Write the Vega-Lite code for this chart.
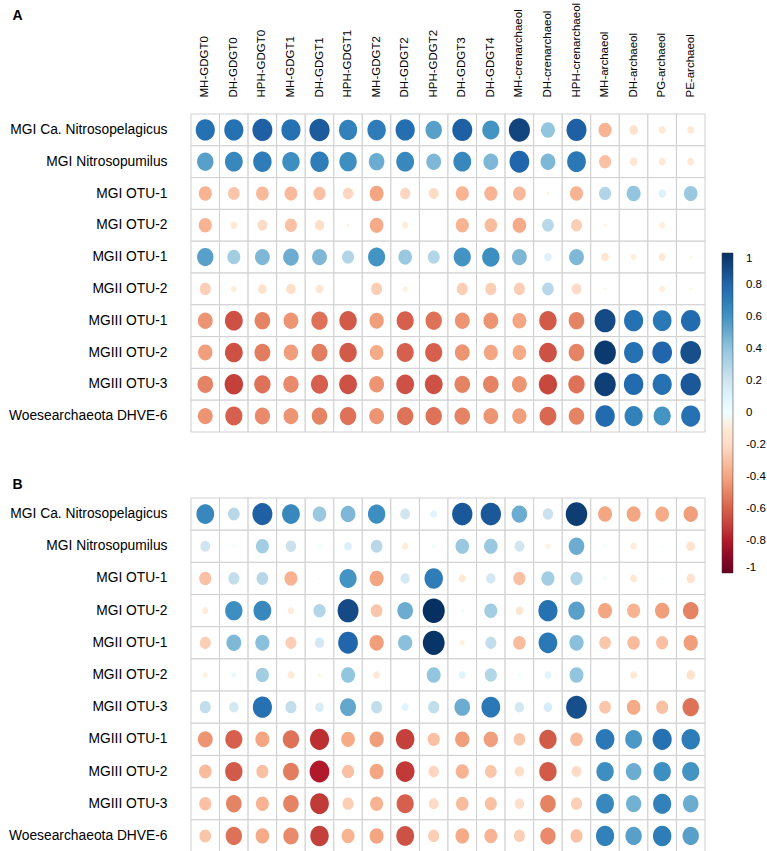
{
"$schema":"https://vega.github.io/schema/vega-lite/v6.json",
"padding":{"left":8,"top":2,"right":0,"bottom":0},
"background":"white",
"config":{"view":{"stroke":null},"axis":{"labelFont":"Liberation Sans","labelColor":"black","ticks":false,"domain":false,"grid":false,"title":null},"title":{"font":"Liberation Sans","fontSize":14,"fontWeight":"bold","color":"black","anchor":"start","frame":"bounds"}},
"spacing":44,
"resolve":{"scale":{"color":"shared","size":"shared"},"legend":{"color":"shared"}},
"datasets":{
"dA":[
{"t":"MGI Ca. Nitrosopelagicus","l":"MH-GDGT0","r":0.75},{"t":"MGI Ca. Nitrosopelagicus","l":"DH-GDGT0","r":0.75},{"t":"MGI Ca. Nitrosopelagicus","l":"HPH-GDGT0","r":0.82},{"t":"MGI Ca. Nitrosopelagicus","l":"MH-GDGT1","r":0.75},{"t":"MGI Ca. Nitrosopelagicus","l":"DH-GDGT1","r":0.84},{"t":"MGI Ca. Nitrosopelagicus","l":"HPH-GDGT1","r":0.68},{"t":"MGI Ca. Nitrosopelagicus","l":"MH-GDGT2","r":0.7},{"t":"MGI Ca. Nitrosopelagicus","l":"DH-GDGT2","r":0.76},{"t":"MGI Ca. Nitrosopelagicus","l":"HPH-GDGT2","r":0.55},{"t":"MGI Ca. Nitrosopelagicus","l":"DH-GDGT3","r":0.82},{"t":"MGI Ca. Nitrosopelagicus","l":"DH-GDGT4","r":0.6},{"t":"MGI Ca. Nitrosopelagicus","l":"MH-crenarchaeol","r":0.92},{"t":"MGI Ca. Nitrosopelagicus","l":"DH-crenarchaeol","r":0.4},{"t":"MGI Ca. Nitrosopelagicus","l":"HPH-crenarchaeol","r":0.82},{"t":"MGI Ca. Nitrosopelagicus","l":"MH-archaeol","r":-0.35},{"t":"MGI Ca. Nitrosopelagicus","l":"DH-archaeol","r":-0.15},{"t":"MGI Ca. Nitrosopelagicus","l":"PG-archaeol","r":-0.1},{"t":"MGI Ca. Nitrosopelagicus","l":"PE-archaeol","r":-0.1},
{"t":"MGI Nitrosopumilus","l":"MH-GDGT0","r":0.55},{"t":"MGI Nitrosopumilus","l":"DH-GDGT0","r":0.65},{"t":"MGI Nitrosopumilus","l":"HPH-GDGT0","r":0.7},{"t":"MGI Nitrosopumilus","l":"MH-GDGT1","r":0.62},{"t":"MGI Nitrosopumilus","l":"DH-GDGT1","r":0.7},{"t":"MGI Nitrosopumilus","l":"HPH-GDGT1","r":0.62},{"t":"MGI Nitrosopumilus","l":"MH-GDGT2","r":0.5},{"t":"MGI Nitrosopumilus","l":"DH-GDGT2","r":0.65},{"t":"MGI Nitrosopumilus","l":"HPH-GDGT2","r":0.45},{"t":"MGI Nitrosopumilus","l":"DH-GDGT3","r":0.65},{"t":"MGI Nitrosopumilus","l":"DH-GDGT4","r":0.45},{"t":"MGI Nitrosopumilus","l":"MH-crenarchaeol","r":0.8},{"t":"MGI Nitrosopumilus","l":"DH-crenarchaeol","r":0.45},{"t":"MGI Nitrosopumilus","l":"HPH-crenarchaeol","r":0.72},{"t":"MGI Nitrosopumilus","l":"MH-archaeol","r":-0.3},{"t":"MGI Nitrosopumilus","l":"DH-archaeol","r":-0.12},{"t":"MGI Nitrosopumilus","l":"PG-archaeol","r":-0.1},{"t":"MGI Nitrosopumilus","l":"PE-archaeol","r":-0.1},
{"t":"MGI OTU-1","l":"MH-GDGT0","r":-0.35},{"t":"MGI OTU-1","l":"DH-GDGT0","r":-0.28},{"t":"MGI OTU-1","l":"HPH-GDGT0","r":-0.33},{"t":"MGI OTU-1","l":"MH-GDGT1","r":-0.33},{"t":"MGI OTU-1","l":"DH-GDGT1","r":-0.3},{"t":"MGI OTU-1","l":"HPH-GDGT1","r":-0.22},{"t":"MGI OTU-1","l":"MH-GDGT2","r":-0.4},{"t":"MGI OTU-1","l":"DH-GDGT2","r":-0.22},{"t":"MGI OTU-1","l":"HPH-GDGT2","r":-0.2},{"t":"MGI OTU-1","l":"DH-GDGT3","r":-0.35},{"t":"MGI OTU-1","l":"DH-GDGT4","r":-0.35},{"t":"MGI OTU-1","l":"MH-crenarchaeol","r":-0.33},{"t":"MGI OTU-1","l":"DH-crenarchaeol","r":-0.02},{"t":"MGI OTU-1","l":"HPH-crenarchaeol","r":-0.35},{"t":"MGI OTU-1","l":"MH-archaeol","r":0.3},{"t":"MGI OTU-1","l":"DH-archaeol","r":0.4},{"t":"MGI OTU-1","l":"PG-archaeol","r":0.12},{"t":"MGI OTU-1","l":"PE-archaeol","r":0.38},
{"t":"MGI OTU-2","l":"MH-GDGT0","r":-0.35},{"t":"MGI OTU-2","l":"DH-GDGT0","r":-0.1},{"t":"MGI OTU-2","l":"HPH-GDGT0","r":-0.2},{"t":"MGI OTU-2","l":"MH-GDGT1","r":-0.3},{"t":"MGI OTU-2","l":"DH-GDGT1","r":-0.18},{"t":"MGI OTU-2","l":"HPH-GDGT1","r":-0.02},{"t":"MGI OTU-2","l":"MH-GDGT2","r":-0.38},{"t":"MGI OTU-2","l":"DH-GDGT2","r":-0.08},{"t":"MGI OTU-2","l":"HPH-GDGT2","r":0},{"t":"MGI OTU-2","l":"DH-GDGT3","r":-0.35},{"t":"MGI OTU-2","l":"DH-GDGT4","r":-0.32},{"t":"MGI OTU-2","l":"MH-crenarchaeol","r":-0.38},{"t":"MGI OTU-2","l":"DH-crenarchaeol","r":0.28},{"t":"MGI OTU-2","l":"HPH-crenarchaeol","r":-0.25},{"t":"MGI OTU-2","l":"MH-archaeol","r":-0.02},{"t":"MGI OTU-2","l":"DH-archaeol","r":0},{"t":"MGI OTU-2","l":"PG-archaeol","r":-0.07},{"t":"MGI OTU-2","l":"PE-archaeol","r":0},
{"t":"MGII OTU-1","l":"MH-GDGT0","r":0.55},{"t":"MGII OTU-1","l":"DH-GDGT0","r":0.35},{"t":"MGII OTU-1","l":"HPH-GDGT0","r":0.45},{"t":"MGII OTU-1","l":"MH-GDGT1","r":0.5},{"t":"MGII OTU-1","l":"DH-GDGT1","r":0.45},{"t":"MGII OTU-1","l":"HPH-GDGT1","r":0.3},{"t":"MGII OTU-1","l":"MH-GDGT2","r":0.6},{"t":"MGII OTU-1","l":"DH-GDGT2","r":0.38},{"t":"MGII OTU-1","l":"HPH-GDGT2","r":0.3},{"t":"MGII OTU-1","l":"DH-GDGT3","r":0.6},{"t":"MGII OTU-1","l":"DH-GDGT4","r":0.62},{"t":"MGII OTU-1","l":"MH-crenarchaeol","r":0.45},{"t":"MGII OTU-1","l":"DH-crenarchaeol","r":0.12},{"t":"MGII OTU-1","l":"HPH-crenarchaeol","r":0.45},{"t":"MGII OTU-1","l":"MH-archaeol","r":-0.12},{"t":"MGII OTU-1","l":"DH-archaeol","r":-0.07},{"t":"MGII OTU-1","l":"PG-archaeol","r":-0.1},{"t":"MGII OTU-1","l":"PE-archaeol","r":-0.02},
{"t":"MGII OTU-2","l":"MH-GDGT0","r":-0.25},{"t":"MGII OTU-2","l":"DH-GDGT0","r":-0.07},{"t":"MGII OTU-2","l":"HPH-GDGT0","r":-0.15},{"t":"MGII OTU-2","l":"MH-GDGT1","r":-0.18},{"t":"MGII OTU-2","l":"DH-GDGT1","r":-0.12},{"t":"MGII OTU-2","l":"HPH-GDGT1","r":0},{"t":"MGII OTU-2","l":"MH-GDGT2","r":-0.25},{"t":"MGII OTU-2","l":"DH-GDGT2","r":-0.05},{"t":"MGII OTU-2","l":"HPH-GDGT2","r":0},{"t":"MGII OTU-2","l":"DH-GDGT3","r":-0.25},{"t":"MGII OTU-2","l":"DH-GDGT4","r":-0.25},{"t":"MGII OTU-2","l":"MH-crenarchaeol","r":-0.25},{"t":"MGII OTU-2","l":"DH-crenarchaeol","r":0.28},{"t":"MGII OTU-2","l":"HPH-crenarchaeol","r":-0.2},{"t":"MGII OTU-2","l":"MH-archaeol","r":-0.01},{"t":"MGII OTU-2","l":"DH-archaeol","r":0},{"t":"MGII OTU-2","l":"PG-archaeol","r":-0.07},{"t":"MGII OTU-2","l":"PE-archaeol","r":-0.01},
{"t":"MGIII OTU-1","l":"MH-GDGT0","r":-0.45},{"t":"MGIII OTU-1","l":"DH-GDGT0","r":-0.65},{"t":"MGIII OTU-1","l":"HPH-GDGT0","r":-0.5},{"t":"MGIII OTU-1","l":"MH-GDGT1","r":-0.45},{"t":"MGIII OTU-1","l":"DH-GDGT1","r":-0.55},{"t":"MGIII OTU-1","l":"HPH-GDGT1","r":-0.62},{"t":"MGIII OTU-1","l":"MH-GDGT2","r":-0.42},{"t":"MGIII OTU-1","l":"DH-GDGT2","r":-0.6},{"t":"MGIII OTU-1","l":"HPH-GDGT2","r":-0.55},{"t":"MGIII OTU-1","l":"DH-GDGT3","r":-0.45},{"t":"MGIII OTU-1","l":"DH-GDGT4","r":-0.45},{"t":"MGIII OTU-1","l":"MH-crenarchaeol","r":-0.4},{"t":"MGIII OTU-1","l":"DH-crenarchaeol","r":-0.62},{"t":"MGIII OTU-1","l":"HPH-crenarchaeol","r":-0.5},{"t":"MGIII OTU-1","l":"MH-archaeol","r":0.9},{"t":"MGIII OTU-1","l":"DH-archaeol","r":0.75},{"t":"MGIII OTU-1","l":"PG-archaeol","r":0.72},{"t":"MGIII OTU-1","l":"PE-archaeol","r":0.78},
{"t":"MGIII OTU-2","l":"MH-GDGT0","r":-0.42},{"t":"MGIII OTU-2","l":"DH-GDGT0","r":-0.65},{"t":"MGIII OTU-2","l":"HPH-GDGT0","r":-0.52},{"t":"MGIII OTU-2","l":"MH-GDGT1","r":-0.42},{"t":"MGIII OTU-2","l":"DH-GDGT1","r":-0.52},{"t":"MGIII OTU-2","l":"HPH-GDGT1","r":-0.62},{"t":"MGIII OTU-2","l":"MH-GDGT2","r":-0.38},{"t":"MGIII OTU-2","l":"DH-GDGT2","r":-0.6},{"t":"MGIII OTU-2","l":"HPH-GDGT2","r":-0.6},{"t":"MGIII OTU-2","l":"DH-GDGT3","r":-0.45},{"t":"MGIII OTU-2","l":"DH-GDGT4","r":-0.4},{"t":"MGIII OTU-2","l":"MH-crenarchaeol","r":-0.38},{"t":"MGIII OTU-2","l":"DH-crenarchaeol","r":-0.65},{"t":"MGIII OTU-2","l":"HPH-crenarchaeol","r":-0.5},{"t":"MGIII OTU-2","l":"MH-archaeol","r":0.96},{"t":"MGIII OTU-2","l":"DH-archaeol","r":0.75},{"t":"MGIII OTU-2","l":"PG-archaeol","r":0.8},{"t":"MGIII OTU-2","l":"PE-archaeol","r":0.88},
{"t":"MGIII OTU-3","l":"MH-GDGT0","r":-0.5},{"t":"MGIII OTU-3","l":"DH-GDGT0","r":-0.7},{"t":"MGIII OTU-3","l":"HPH-GDGT0","r":-0.55},{"t":"MGIII OTU-3","l":"MH-GDGT1","r":-0.48},{"t":"MGIII OTU-3","l":"DH-GDGT1","r":-0.6},{"t":"MGIII OTU-3","l":"HPH-GDGT1","r":-0.65},{"t":"MGIII OTU-3","l":"MH-GDGT2","r":-0.45},{"t":"MGIII OTU-3","l":"DH-GDGT2","r":-0.65},{"t":"MGIII OTU-3","l":"HPH-GDGT2","r":-0.65},{"t":"MGIII OTU-3","l":"DH-GDGT3","r":-0.5},{"t":"MGIII OTU-3","l":"DH-GDGT4","r":-0.5},{"t":"MGIII OTU-3","l":"MH-crenarchaeol","r":-0.45},{"t":"MGIII OTU-3","l":"DH-crenarchaeol","r":-0.68},{"t":"MGIII OTU-3","l":"HPH-crenarchaeol","r":-0.55},{"t":"MGIII OTU-3","l":"MH-archaeol","r":0.94},{"t":"MGIII OTU-3","l":"DH-archaeol","r":0.78},{"t":"MGIII OTU-3","l":"PG-archaeol","r":0.75},{"t":"MGIII OTU-3","l":"PE-archaeol","r":0.85},
{"t":"Woesearchaeota DHVE-6","l":"MH-GDGT0","r":-0.45},{"t":"Woesearchaeota DHVE-6","l":"DH-GDGT0","r":-0.6},{"t":"Woesearchaeota DHVE-6","l":"HPH-GDGT0","r":-0.48},{"t":"Woesearchaeota DHVE-6","l":"MH-GDGT1","r":-0.45},{"t":"Woesearchaeota DHVE-6","l":"DH-GDGT1","r":-0.5},{"t":"Woesearchaeota DHVE-6","l":"HPH-GDGT1","r":-0.55},{"t":"Woesearchaeota DHVE-6","l":"MH-GDGT2","r":-0.45},{"t":"Woesearchaeota DHVE-6","l":"DH-GDGT2","r":-0.55},{"t":"Woesearchaeota DHVE-6","l":"HPH-GDGT2","r":-0.55},{"t":"Woesearchaeota DHVE-6","l":"DH-GDGT3","r":-0.5},{"t":"Woesearchaeota DHVE-6","l":"DH-GDGT4","r":-0.45},{"t":"Woesearchaeota DHVE-6","l":"MH-crenarchaeol","r":-0.42},{"t":"Woesearchaeota DHVE-6","l":"DH-crenarchaeol","r":-0.58},{"t":"Woesearchaeota DHVE-6","l":"HPH-crenarchaeol","r":-0.5},{"t":"Woesearchaeota DHVE-6","l":"MH-archaeol","r":0.78},{"t":"Woesearchaeota DHVE-6","l":"DH-archaeol","r":0.68},{"t":"Woesearchaeota DHVE-6","l":"PG-archaeol","r":0.6},{"t":"Woesearchaeota DHVE-6","l":"PE-archaeol","r":0.75}
],
"dB":[
{"t":"MGI Ca. Nitrosopelagicus","l":"MH-GDGT0","r":0.65},{"t":"MGI Ca. Nitrosopelagicus","l":"DH-GDGT0","r":0.28},{"t":"MGI Ca. Nitrosopelagicus","l":"HPH-GDGT0","r":0.82},{"t":"MGI Ca. Nitrosopelagicus","l":"MH-GDGT1","r":0.65},{"t":"MGI Ca. Nitrosopelagicus","l":"DH-GDGT1","r":0.38},{"t":"MGI Ca. Nitrosopelagicus","l":"HPH-GDGT1","r":0.45},{"t":"MGI Ca. Nitrosopelagicus","l":"MH-GDGT2","r":0.62},{"t":"MGI Ca. Nitrosopelagicus","l":"DH-GDGT2","r":0.2},{"t":"MGI Ca. Nitrosopelagicus","l":"HPH-GDGT2","r":0.1},{"t":"MGI Ca. Nitrosopelagicus","l":"DH-GDGT3","r":0.85},{"t":"MGI Ca. Nitrosopelagicus","l":"DH-GDGT4","r":0.85},{"t":"MGI Ca. Nitrosopelagicus","l":"MH-crenarchaeol","r":0.5},{"t":"MGI Ca. Nitrosopelagicus","l":"DH-crenarchaeol","r":0.22},{"t":"MGI Ca. Nitrosopelagicus","l":"HPH-crenarchaeol","r":0.95},{"t":"MGI Ca. Nitrosopelagicus","l":"MH-archaeol","r":-0.4},{"t":"MGI Ca. Nitrosopelagicus","l":"DH-archaeol","r":-0.4},{"t":"MGI Ca. Nitrosopelagicus","l":"PG-archaeol","r":-0.38},{"t":"MGI Ca. Nitrosopelagicus","l":"PE-archaeol","r":-0.42},
{"t":"MGI Nitrosopumilus","l":"MH-GDGT0","r":0.2},{"t":"MGI Nitrosopumilus","l":"DH-GDGT0","r":0.02},{"t":"MGI Nitrosopumilus","l":"HPH-GDGT0","r":0.35},{"t":"MGI Nitrosopumilus","l":"MH-GDGT1","r":0.22},{"t":"MGI Nitrosopumilus","l":"DH-GDGT1","r":0.02},{"t":"MGI Nitrosopumilus","l":"HPH-GDGT1","r":0.12},{"t":"MGI Nitrosopumilus","l":"MH-GDGT2","r":0.28},{"t":"MGI Nitrosopumilus","l":"DH-GDGT2","r":-0.08},{"t":"MGI Nitrosopumilus","l":"HPH-GDGT2","r":0.03},{"t":"MGI Nitrosopumilus","l":"DH-GDGT3","r":0.38},{"t":"MGI Nitrosopumilus","l":"DH-GDGT4","r":0.38},{"t":"MGI Nitrosopumilus","l":"MH-crenarchaeol","r":0.2},{"t":"MGI Nitrosopumilus","l":"DH-crenarchaeol","r":-0.05},{"t":"MGI Nitrosopumilus","l":"HPH-crenarchaeol","r":0.5},{"t":"MGI Nitrosopumilus","l":"MH-archaeol","r":0.02},{"t":"MGI Nitrosopumilus","l":"DH-archaeol","r":-0.08},{"t":"MGI Nitrosopumilus","l":"PG-archaeol","r":0.01},{"t":"MGI Nitrosopumilus","l":"PE-archaeol","r":-0.15},
{"t":"MGI OTU-1","l":"MH-GDGT0","r":-0.3},{"t":"MGI OTU-1","l":"DH-GDGT0","r":0.25},{"t":"MGI OTU-1","l":"HPH-GDGT0","r":0.28},{"t":"MGI OTU-1","l":"MH-GDGT1","r":-0.35},{"t":"MGI OTU-1","l":"DH-GDGT1","r":0.01},{"t":"MGI OTU-1","l":"HPH-GDGT1","r":0.6},{"t":"MGI OTU-1","l":"MH-GDGT2","r":-0.4},{"t":"MGI OTU-1","l":"DH-GDGT2","r":0.18},{"t":"MGI OTU-1","l":"HPH-GDGT2","r":0.7},{"t":"MGI OTU-1","l":"DH-GDGT3","r":-0.1},{"t":"MGI OTU-1","l":"DH-GDGT4","r":0.18},{"t":"MGI OTU-1","l":"MH-crenarchaeol","r":-0.3},{"t":"MGI OTU-1","l":"DH-crenarchaeol","r":0.35},{"t":"MGI OTU-1","l":"HPH-crenarchaeol","r":0.3},{"t":"MGI OTU-1","l":"MH-archaeol","r":0.02},{"t":"MGI OTU-1","l":"DH-archaeol","r":-0.1},{"t":"MGI OTU-1","l":"PG-archaeol","r":0.01},{"t":"MGI OTU-1","l":"PE-archaeol","r":-0.15},
{"t":"MGI OTU-2","l":"MH-GDGT0","r":-0.08},{"t":"MGI OTU-2","l":"DH-GDGT0","r":0.62},{"t":"MGI OTU-2","l":"HPH-GDGT0","r":0.65},{"t":"MGI OTU-2","l":"MH-GDGT1","r":-0.08},{"t":"MGI OTU-2","l":"DH-GDGT1","r":0.3},{"t":"MGI OTU-2","l":"HPH-GDGT1","r":0.9},{"t":"MGI OTU-2","l":"MH-GDGT2","r":-0.28},{"t":"MGI OTU-2","l":"DH-GDGT2","r":0.5},{"t":"MGI OTU-2","l":"HPH-GDGT2","r":1.0},{"t":"MGI OTU-2","l":"DH-GDGT3","r":0.02},{"t":"MGI OTU-2","l":"DH-GDGT4","r":0.35},{"t":"MGI OTU-2","l":"MH-crenarchaeol","r":-0.12},{"t":"MGI OTU-2","l":"DH-crenarchaeol","r":0.75},{"t":"MGI OTU-2","l":"HPH-crenarchaeol","r":0.55},{"t":"MGI OTU-2","l":"MH-archaeol","r":-0.4},{"t":"MGI OTU-2","l":"DH-archaeol","r":-0.35},{"t":"MGI OTU-2","l":"PG-archaeol","r":-0.42},{"t":"MGI OTU-2","l":"PE-archaeol","r":-0.5},
{"t":"MGII OTU-1","l":"MH-GDGT0","r":-0.25},{"t":"MGII OTU-1","l":"DH-GDGT0","r":0.45},{"t":"MGII OTU-1","l":"HPH-GDGT0","r":0.42},{"t":"MGII OTU-1","l":"MH-GDGT1","r":-0.25},{"t":"MGII OTU-1","l":"DH-GDGT1","r":0.18},{"t":"MGII OTU-1","l":"HPH-GDGT1","r":0.8},{"t":"MGII OTU-1","l":"MH-GDGT2","r":-0.42},{"t":"MGII OTU-1","l":"DH-GDGT2","r":0.42},{"t":"MGII OTU-1","l":"HPH-GDGT2","r":0.98},{"t":"MGII OTU-1","l":"DH-GDGT3","r":-0.05},{"t":"MGII OTU-1","l":"DH-GDGT4","r":0.25},{"t":"MGII OTU-1","l":"MH-crenarchaeol","r":-0.32},{"t":"MGII OTU-1","l":"DH-crenarchaeol","r":0.72},{"t":"MGII OTU-1","l":"HPH-crenarchaeol","r":0.42},{"t":"MGII OTU-1","l":"MH-archaeol","r":-0.28},{"t":"MGII OTU-1","l":"DH-archaeol","r":-0.32},{"t":"MGII OTU-1","l":"PG-archaeol","r":-0.3},{"t":"MGII OTU-1","l":"PE-archaeol","r":-0.42},
{"t":"MGII OTU-2","l":"MH-GDGT0","r":-0.05},{"t":"MGII OTU-2","l":"DH-GDGT0","r":0.05},{"t":"MGII OTU-2","l":"HPH-GDGT0","r":0.35},{"t":"MGII OTU-2","l":"MH-GDGT1","r":-0.1},{"t":"MGII OTU-2","l":"DH-GDGT1","r":-0.02},{"t":"MGII OTU-2","l":"HPH-GDGT1","r":0.4},{"t":"MGII OTU-2","l":"MH-GDGT2","r":-0.1},{"t":"MGII OTU-2","l":"DH-GDGT2","r":0.01},{"t":"MGII OTU-2","l":"HPH-GDGT2","r":0.4},{"t":"MGII OTU-2","l":"DH-GDGT3","r":0.1},{"t":"MGII OTU-2","l":"DH-GDGT4","r":0.3},{"t":"MGII OTU-2","l":"MH-crenarchaeol","r":0.02},{"t":"MGII OTU-2","l":"DH-crenarchaeol","r":0.1},{"t":"MGII OTU-2","l":"HPH-crenarchaeol","r":0.4},{"t":"MGII OTU-2","l":"MH-archaeol","r":0},{"t":"MGII OTU-2","l":"DH-archaeol","r":-0.1},{"t":"MGII OTU-2","l":"PG-archaeol","r":0},{"t":"MGII OTU-2","l":"PE-archaeol","r":-0.15},
{"t":"MGII OTU-3","l":"MH-GDGT0","r":0.25},{"t":"MGII OTU-3","l":"DH-GDGT0","r":0.18},{"t":"MGII OTU-3","l":"HPH-GDGT0","r":0.75},{"t":"MGII OTU-3","l":"MH-GDGT1","r":0.25},{"t":"MGII OTU-3","l":"DH-GDGT1","r":0.15},{"t":"MGII OTU-3","l":"HPH-GDGT1","r":0.52},{"t":"MGII OTU-3","l":"MH-GDGT2","r":0.25},{"t":"MGII OTU-3","l":"DH-GDGT2","r":0.1},{"t":"MGII OTU-3","l":"HPH-GDGT2","r":0.25},{"t":"MGII OTU-3","l":"DH-GDGT3","r":0.5},{"t":"MGII OTU-3","l":"DH-GDGT4","r":0.72},{"t":"MGII OTU-3","l":"MH-crenarchaeol","r":0.18},{"t":"MGII OTU-3","l":"DH-crenarchaeol","r":0.15},{"t":"MGII OTU-3","l":"HPH-crenarchaeol","r":0.88},{"t":"MGII OTU-3","l":"MH-archaeol","r":-0.28},{"t":"MGII OTU-3","l":"DH-archaeol","r":-0.38},{"t":"MGII OTU-3","l":"PG-archaeol","r":-0.3},{"t":"MGII OTU-3","l":"PE-archaeol","r":-0.55},
{"t":"MGIII OTU-1","l":"MH-GDGT0","r":-0.45},{"t":"MGIII OTU-1","l":"DH-GDGT0","r":-0.6},{"t":"MGIII OTU-1","l":"HPH-GDGT0","r":-0.4},{"t":"MGIII OTU-1","l":"MH-GDGT1","r":-0.55},{"t":"MGIII OTU-1","l":"DH-GDGT1","r":-0.75},{"t":"MGIII OTU-1","l":"HPH-GDGT1","r":-0.38},{"t":"MGIII OTU-1","l":"MH-GDGT2","r":-0.42},{"t":"MGIII OTU-1","l":"DH-GDGT2","r":-0.7},{"t":"MGIII OTU-1","l":"HPH-GDGT2","r":-0.3},{"t":"MGIII OTU-1","l":"DH-GDGT3","r":-0.42},{"t":"MGIII OTU-1","l":"DH-GDGT4","r":-0.42},{"t":"MGIII OTU-1","l":"MH-crenarchaeol","r":-0.28},{"t":"MGIII OTU-1","l":"DH-crenarchaeol","r":-0.62},{"t":"MGIII OTU-1","l":"HPH-crenarchaeol","r":-0.32},{"t":"MGIII OTU-1","l":"MH-archaeol","r":0.72},{"t":"MGIII OTU-1","l":"DH-archaeol","r":0.58},{"t":"MGIII OTU-1","l":"PG-archaeol","r":0.75},{"t":"MGIII OTU-1","l":"PE-archaeol","r":0.7},
{"t":"MGIII OTU-2","l":"MH-GDGT0","r":-0.32},{"t":"MGIII OTU-2","l":"DH-GDGT0","r":-0.62},{"t":"MGIII OTU-2","l":"HPH-GDGT0","r":-0.3},{"t":"MGIII OTU-2","l":"MH-GDGT1","r":-0.52},{"t":"MGIII OTU-2","l":"DH-GDGT1","r":-0.8},{"t":"MGIII OTU-2","l":"HPH-GDGT1","r":-0.3},{"t":"MGIII OTU-2","l":"MH-GDGT2","r":-0.4},{"t":"MGIII OTU-2","l":"DH-GDGT2","r":-0.72},{"t":"MGIII OTU-2","l":"HPH-GDGT2","r":-0.22},{"t":"MGIII OTU-2","l":"DH-GDGT3","r":-0.35},{"t":"MGIII OTU-2","l":"DH-GDGT4","r":-0.28},{"t":"MGIII OTU-2","l":"MH-crenarchaeol","r":-0.18},{"t":"MGIII OTU-2","l":"DH-crenarchaeol","r":-0.62},{"t":"MGIII OTU-2","l":"HPH-crenarchaeol","r":-0.2},{"t":"MGIII OTU-2","l":"MH-archaeol","r":0.62},{"t":"MGIII OTU-2","l":"DH-archaeol","r":0.5},{"t":"MGIII OTU-2","l":"PG-archaeol","r":0.62},{"t":"MGIII OTU-2","l":"PE-archaeol","r":0.6},
{"t":"MGIII OTU-3","l":"MH-GDGT0","r":-0.3},{"t":"MGIII OTU-3","l":"DH-GDGT0","r":-0.5},{"t":"MGIII OTU-3","l":"HPH-GDGT0","r":-0.35},{"t":"MGIII OTU-3","l":"MH-GDGT1","r":-0.5},{"t":"MGIII OTU-3","l":"DH-GDGT1","r":-0.72},{"t":"MGIII OTU-3","l":"HPH-GDGT1","r":-0.25},{"t":"MGIII OTU-3","l":"MH-GDGT2","r":-0.35},{"t":"MGIII OTU-3","l":"DH-GDGT2","r":-0.6},{"t":"MGIII OTU-3","l":"HPH-GDGT2","r":-0.2},{"t":"MGIII OTU-3","l":"DH-GDGT3","r":-0.32},{"t":"MGIII OTU-3","l":"DH-GDGT4","r":-0.3},{"t":"MGIII OTU-3","l":"MH-crenarchaeol","r":-0.18},{"t":"MGIII OTU-3","l":"DH-crenarchaeol","r":-0.5},{"t":"MGIII OTU-3","l":"HPH-crenarchaeol","r":-0.25},{"t":"MGIII OTU-3","l":"MH-archaeol","r":0.65},{"t":"MGIII OTU-3","l":"DH-archaeol","r":0.48},{"t":"MGIII OTU-3","l":"PG-archaeol","r":0.68},{"t":"MGIII OTU-3","l":"PE-archaeol","r":0.5},
{"t":"Woesearchaeota DHVE-6","l":"MH-GDGT0","r":-0.28},{"t":"Woesearchaeota DHVE-6","l":"DH-GDGT0","r":-0.55},{"t":"Woesearchaeota DHVE-6","l":"HPH-GDGT0","r":-0.38},{"t":"Woesearchaeota DHVE-6","l":"MH-GDGT1","r":-0.48},{"t":"Woesearchaeota DHVE-6","l":"DH-GDGT1","r":-0.7},{"t":"Woesearchaeota DHVE-6","l":"HPH-GDGT1","r":-0.35},{"t":"Woesearchaeota DHVE-6","l":"MH-GDGT2","r":-0.4},{"t":"Woesearchaeota DHVE-6","l":"DH-GDGT2","r":-0.65},{"t":"Woesearchaeota DHVE-6","l":"HPH-GDGT2","r":-0.25},{"t":"Woesearchaeota DHVE-6","l":"DH-GDGT3","r":-0.38},{"t":"Woesearchaeota DHVE-6","l":"DH-GDGT4","r":-0.35},{"t":"Woesearchaeota DHVE-6","l":"MH-crenarchaeol","r":-0.25},{"t":"Woesearchaeota DHVE-6","l":"DH-crenarchaeol","r":-0.48},{"t":"Woesearchaeota DHVE-6","l":"HPH-crenarchaeol","r":-0.3},{"t":"Woesearchaeota DHVE-6","l":"MH-archaeol","r":0.68},{"t":"Woesearchaeota DHVE-6","l":"DH-archaeol","r":0.55},{"t":"Woesearchaeota DHVE-6","l":"PG-archaeol","r":0.7},{"t":"Woesearchaeota DHVE-6","l":"PE-archaeol","r":0.55}
]},
"vconcat":[
{"title":{"text":"A","offset":-21,"dx":4},
"width":514,"height":318,
"data":{"name":"dA"},
"encoding":{
"x":{"field":"l","type":"nominal","scale":{"domain":["MH-GDGT0","DH-GDGT0","HPH-GDGT0","MH-GDGT1","DH-GDGT1","HPH-GDGT1","MH-GDGT2","DH-GDGT2","HPH-GDGT2","DH-GDGT3","DH-GDGT4","MH-crenarchaeol","DH-crenarchaeol","HPH-crenarchaeol","MH-archaeol","DH-archaeol","PG-archaeol","PE-archaeol"],"paddingInner":0,"paddingOuter":0},"axis":{"orient":"top","labelAngle":-90,"labelFontSize":11.5,"labelPadding":17}},
"y":{"field":"t","type":"nominal","scale":{"domain":["MGI Ca. Nitrosopelagicus","MGI Nitrosopumilus","MGI OTU-1","MGI OTU-2","MGII OTU-1","MGII OTU-2","MGIII OTU-1","MGIII OTU-2","MGIII OTU-3","Woesearchaeota DHVE-6"],"paddingInner":0,"paddingOuter":0},"axis":{"labelFontSize":13.8,"labelPadding":24}}
},
"layer":[
{"mark":{"type":"rect","fill":"white","stroke":"#cfcfcf","strokeWidth":1}},
{"mark":{"type":"point","filled":true,"opacity":1,"strokeWidth":0,"shape":"M0,-1A0.9,1 0 1,1 0,1A0.9,1 0 1,1 0,-1Z"},
"encoding":{
"color":{"field":"r","type":"quantitative","scale":{"type":"linear","domain":[-1,-0.8,-0.6,-0.4,-0.2,0,0.2,0.4,0.6,0.8,1],"range":["#67001F","#B2182B","#D6604D","#F4A582","#FDDBC7","#FFFFFF","#D1E5F0","#92C5DE","#4393C3","#2166AC","#053061"]},
"legend":{"orient":"none","legendX":531,"legendY":139,"direction":"vertical","gradientLength":320,"gradientThickness":11,"title":null,"values":[1,0.8,0.6,0.4,0.2,0,-0.2,-0.4,-0.6,-0.8,-1],"labelExpr":"''+datum.value","labelFontSize":11.5,"labelFont":"Liberation Sans","labelColor":"black","labelOffset":13,"labelBaseline":"middle","gradientStrokeColor":"#333333","gradientStrokeWidth":0.5,"labelOverlap":false}},
"size":{"field":"r","type":"quantitative","scale":{"type":"linear","domain":[-1,0,1],"range":[600,0,600]},"legend":null}
}}
]},
{"title":{"text":"B","offset":6,"dx":4},
"width":514,"height":354,
"data":{"name":"dB"},
"encoding":{
"x":{"field":"l","type":"nominal","scale":{"domain":["MH-GDGT0","DH-GDGT0","HPH-GDGT0","MH-GDGT1","DH-GDGT1","HPH-GDGT1","MH-GDGT2","DH-GDGT2","HPH-GDGT2","DH-GDGT3","DH-GDGT4","MH-crenarchaeol","DH-crenarchaeol","HPH-crenarchaeol","MH-archaeol","DH-archaeol","PG-archaeol","PE-archaeol"],"paddingInner":0,"paddingOuter":0},"axis":null},
"y":{"field":"t","type":"nominal","scale":{"domain":["MGI Ca. Nitrosopelagicus","MGI Nitrosopumilus","MGI OTU-1","MGI OTU-2","MGII OTU-1","MGII OTU-2","MGII OTU-3","MGIII OTU-1","MGIII OTU-2","MGIII OTU-3","Woesearchaeota DHVE-6"],"paddingInner":0,"paddingOuter":0},"axis":{"labelFontSize":13.8,"labelPadding":24}}
},
"layer":[
{"mark":{"type":"rect","fill":"white","stroke":"#cfcfcf","strokeWidth":1}},
{"mark":{"type":"point","filled":true,"opacity":1,"strokeWidth":0,"shape":"M0,-1A0.9,1 0 1,1 0,1A0.9,1 0 1,1 0,-1Z"},
"encoding":{
"color":{"field":"r","type":"quantitative","scale":{"type":"linear","domain":[-1,-0.8,-0.6,-0.4,-0.2,0,0.2,0.4,0.6,0.8,1],"range":["#67001F","#B2182B","#D6604D","#F4A582","#FDDBC7","#FFFFFF","#D1E5F0","#92C5DE","#4393C3","#2166AC","#053061"]}},
"size":{"field":"r","type":"quantitative","scale":{"type":"linear","domain":[-1,0,1],"range":[600,0,600]},"legend":null}
}}
]}
]
}
